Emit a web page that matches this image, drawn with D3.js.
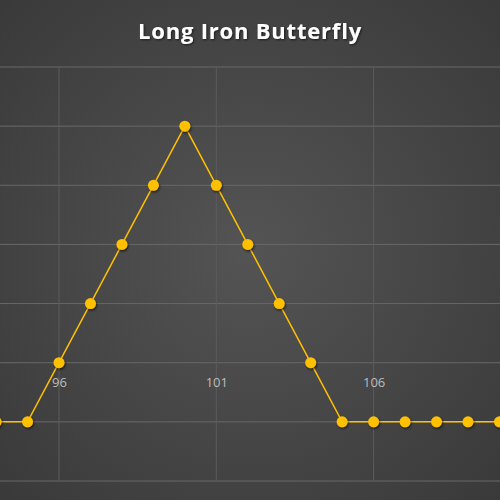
<!DOCTYPE html>
<html><head><meta charset="utf-8">
<script src="https://cdn.jsdelivr.net/npm/d3@7"></script>
<style>html,body{margin:0;padding:0;background:#444;}svg{display:block;}</style>
</head><body>
<svg id="c" width="500" height="500"></svg>
<script>
const title = "Long Iron Butterfly";
const strikes = [94,95,96,97,98,99,100,101,102,103,104,105,106,107,108,109,110];
const payoff  = [-1,-1,0,1,2,3,4,3,2,1,0,-1,-1,-1,-1,-1,-1];
const xTicks = [96,101,106];
const yTicks = [-2,-1,0,1,2,3,4,5];

const svg = d3.select("#c");
const W = 500, H = 500;
const defs = svg.append("defs");
const rg = defs.append("radialGradient").attr("id","bg").attr("cx","50%").attr("cy","50%").attr("r","72%");
rg.append("stop").attr("offset","0%").attr("stop-color","#545454");
rg.append("stop").attr("offset","100%").attr("stop-color","#393939");
const f = defs.append("filter").attr("id","sh").attr("x","-50%").attr("y","-50%").attr("width","200%").attr("height","200%");
f.append("feDropShadow").attr("dx",1).attr("dy",1.5).attr("stdDeviation",1.2).attr("flood-color","#000").attr("flood-opacity",0.6);
const ft = defs.append("filter").attr("id","tsh");
ft.append("feDropShadow").attr("dx",1).attr("dy",1).attr("stdDeviation",1).attr("flood-color","#000").attr("flood-opacity",0.6);

svg.append("rect").attr("width",W).attr("height",H).attr("fill","url(#bg)");

const x = d3.scaleLinear().domain([96,101]).range([59,216.3]);
const y = d3.scaleLinear().domain([-2,5]).range([481,67]);

const g = svg.append("g");
g.selectAll("line.h").data(yTicks).join("line").attr("class","h")
  .attr("x1",0).attr("x2",W).attr("y1",d=>y(d)).attr("y2",d=>y(d))
  .attr("stroke","#686868").attr("stroke-width",1);
g.selectAll("line.v").data(xTicks).join("line").attr("class","v")
  .attr("x1",d=>x(d)).attr("x2",d=>x(d)).attr("y1",y(5)).attr("y2",y(-2))
  .attr("stroke","#5c5c5c").attr("stroke-width",1);

const ax = svg.append("g").attr("transform",`translate(0,${y(0)})`)
  .call(d3.axisBottom(x).tickValues(xTicks).tickSize(0).tickPadding(15).tickFormat(d3.format("d")));
ax.select(".domain").remove();
ax.selectAll("text").attr("fill","#bdbdbd").attr("font-family","Open Sans, sans-serif").attr("font-size","13px");

const line = d3.line().x((d,i)=>x(strikes[i])).y(d=>y(d));
svg.append("path").datum(payoff).attr("d",line).attr("fill","none")
  .attr("stroke","#FFC000").attr("stroke-width",1.5);
svg.selectAll("circle.pt").data(payoff).join("circle").attr("class","pt")
  .attr("cx",(d,i)=>x(strikes[i])).attr("cy",d=>y(d)).attr("r",5.5)
  .attr("fill","#FFC000").attr("filter","url(#sh)");

svg.append("text").attr("x",W/2).attr("y",39).attr("text-anchor","middle")
  .attr("fill","#ffffff").attr("font-family","Open Sans, sans-serif").attr("font-weight",700)
  .attr("font-size","22px").attr("letter-spacing","0.8px").attr("filter","url(#tsh)").text(title);
</script>
</body></html>
